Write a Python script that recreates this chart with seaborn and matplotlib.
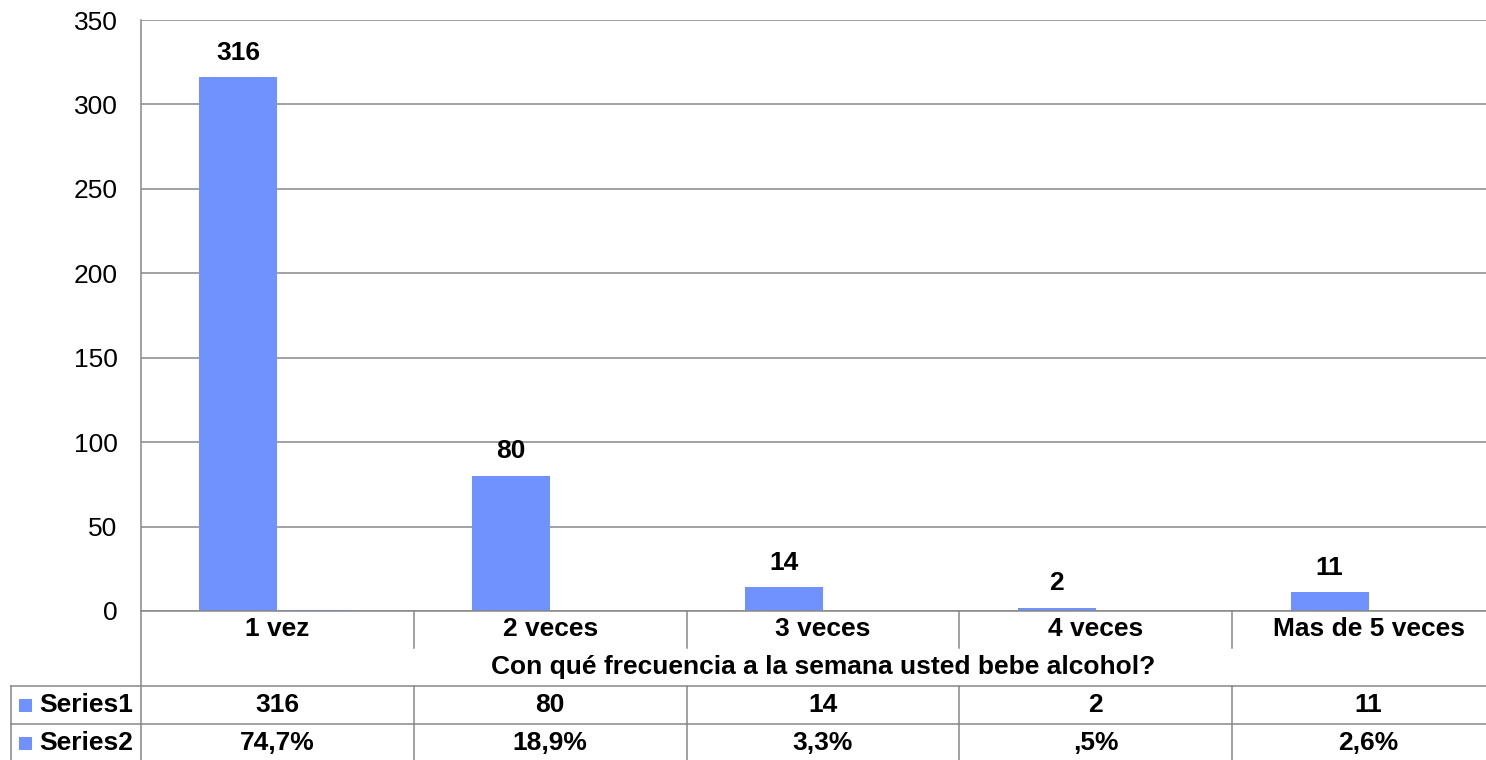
import matplotlib
matplotlib.use("Agg")
import matplotlib.pyplot as plt
import matplotlib.transforms as mtransforms
from matplotlib.lines import Line2D
from matplotlib.patches import Rectangle
import seaborn as sns
import pandas as pd

# ---- data ----
categories = ["1 vez", "2 veces", "3 veces", "4 veces", "Mas de 5 veces"]
series1 = [316, 80, 14, 2, 11]
series2 = [0.747, 0.189, 0.033, 0.005, 0.026]
series_names = ["Series1", "Series2"]
axis_title = "Con qué frecuencia a la semana usted bebe alcohol?"
yticks = [0, 50, 100, 150, 200, 250, 300, 350]

BAR = "#7092FF"
GRID = "#878787"
W, H = 1486, 760
FS = 19

plt.rcParams["font.family"] = ["Liberation Sans", "DejaVu Sans"]

df = pd.DataFrame({
    "cat": categories * 2,
    "value": series1 + series2,
    "series": [series_names[0]] * len(categories) + [series_names[1]] * len(categories),
})

fig = plt.figure(figsize=(W / 100, H / 100), dpi=100)
left, right, top, bottom = 141, 1505, 20, 611
ax = fig.add_axes([left / W, 1 - bottom / H, (right - left) / W, (bottom - top) / H])

sns.barplot(data=df, x="cat", y="value", hue="series", order=categories,
            hue_order=series_names, palette=[BAR, BAR], saturation=1,
            width=2 / 3.5, linewidth=0, legend=False, ax=ax, errorbar=None)

ax.set_xlim(-0.5, len(categories) - 0.5)
ax.set_ylim(0, 350)
ax.set_yticks(yticks)
ax.set_yticklabels([str(t) for t in yticks])
ax.set_xlabel("")
ax.set_ylabel("")
ax.tick_params(axis="y", length=0, pad=17, labelsize=FS, colors="black")
ax.tick_params(axis="x", length=0, labelbottom=False)
ax.yaxis.grid(True, color=GRID, linewidth=1.1)
ax.set_axisbelow(True)
for s in ["top", "right"]:
    ax.spines[s].set_visible(False)
for s in ["left", "bottom"]:
    ax.spines[s].set_color(GRID)
    ax.spines[s].set_linewidth(1.1)

# data labels on Series1
ax.bar_label(ax.containers[0], labels=[str(v) for v in series1], padding=9,
             fontsize=FS, fontweight="bold")

# ---- data table ----
pix = mtransforms.Affine2D().scale(1 / W, -1 / H).translate(0, 1) + fig.transFigure
dx_py = mtransforms.blended_transform_factory(ax.transData, pix)

def line(xs, ys, tr):
    fig.add_artist(Line2D(xs, ys, transform=tr, color=GRID, linewidth=1.1, clip_on=False))

row_cat = (611, 648)
row_title = (648, 686)
row_s1 = (686, 724)
row_s2 = (724, 762)

line([left, left], [611, 762], pix)
line([11, 11], [686, 762], pix)
line([11, W + 30], [686, 686], pix)
line([11, W + 30], [724, 724], pix)
for i in range(1, len(categories)):
    b = i - 0.5
    line([b, b], [row_cat[0], row_cat[1]], dx_py)
    line([b, b], [row_s1[0], row_s2[1]], dx_py)

tk = dict(fontsize=FS, fontweight="bold", ha="center", va="center")
for i, c in enumerate(categories):
    ax.text(i, sum(row_cat) / 2, c, transform=dx_py, **tk)
    ax.text(i, sum(row_s1) / 2, str(series1[i]), transform=dx_py, **tk)
    pct = f"{series2[i] * 100:.1f}".replace(".", ",")
    if pct.startswith("0,"):
        pct = pct[1:]
    ax.text(i, sum(row_s2) / 2, pct + "%", transform=dx_py, **tk)
ax.text((len(categories) - 1) / 2, sum(row_title) / 2, axis_title, transform=dx_py, **tk)

for name, row in zip(series_names, [row_s1, row_s2]):
    cy = sum(row) / 2
    fig.add_artist(Rectangle((19, cy - 6.5), 13, 13, transform=pix, color=BAR, linewidth=0))
    fig.text(39, cy, name, transform=pix, fontsize=FS, fontweight="bold", ha="left", va="center")

fig.savefig("out.png", dpi=100)
